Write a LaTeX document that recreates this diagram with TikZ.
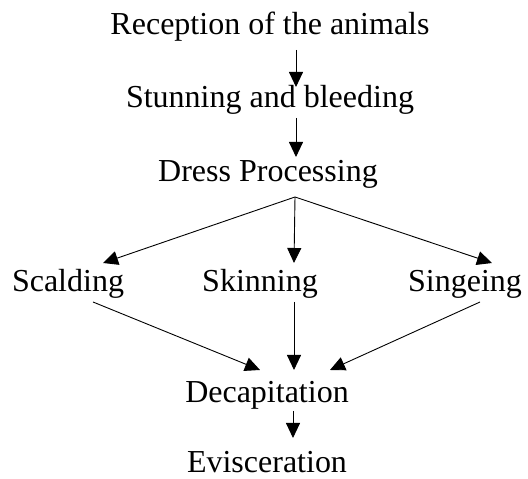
\documentclass[tikz,border=0pt]{standalone}
\usepackage{fontspec}
\setmainfont{Liberation Serif}
\usetikzlibrary{arrows.meta,calc}
\begin{document}
\begin{tikzpicture}[x=1pt,y=1pt,
  lbl/.style={inner sep=0pt,anchor=base,font=\fontsize{32}{37}\selectfont},
  arr/.style={line width=0.9pt,-{Triangle[length=15pt,width=14pt]}}]
\useasboundingbox (0,0) rectangle (528,479);
\node[lbl] (rec) at (270,444) {Reception of the animals};
\node[lbl] (stun) at (270,371) {Stunning and bleeding};
\node[lbl] (dress) at (268,297) {Dress Processing};
\node[lbl] (scald) at (68,187) {Scalding};
\node[lbl] (skin) at (260,187) {Skinning};
\node[lbl] (sing) at (465,187) {Singeing};
\node[lbl] (dec) at (267,76) {Decapitation};
\node[lbl] (evi) at (267,6) {Evisceration};
\coordinate (br) at ($(dress.base)+(27,-15)$);
\draw[arr] ($(rec.base)+(26,-15)$) -- ($(stun.base)+(26,21)$);
\draw[arr] ($(stun.base)+(26,-10)$) -- ($(dress.base)+(28,25)$);
\draw[arr] (br) -- ($(scald.base)+(35,29)$);
\draw[arr] (br) -- ($(skin.base)+(34,29)$);
\draw[arr] (br) -- ($(sing.base)+(27,29)$);
\draw[arr] ($(scald.base)+(25,-10)$) -- ($(dec.base)+(-7,33)$);
\draw[arr] ($(skin.base)+(34,-10)$) -- ($(dec.base)+(27,33)$);
\draw[arr] ($(sing.base)+(15,-10)$) -- ($(dec.base)+(63,33)$);
\draw[arr] ($(dec.base)+(26,-8)$) -- ($(evi.base)+(26,35)$);
\end{tikzpicture}
\end{document}
